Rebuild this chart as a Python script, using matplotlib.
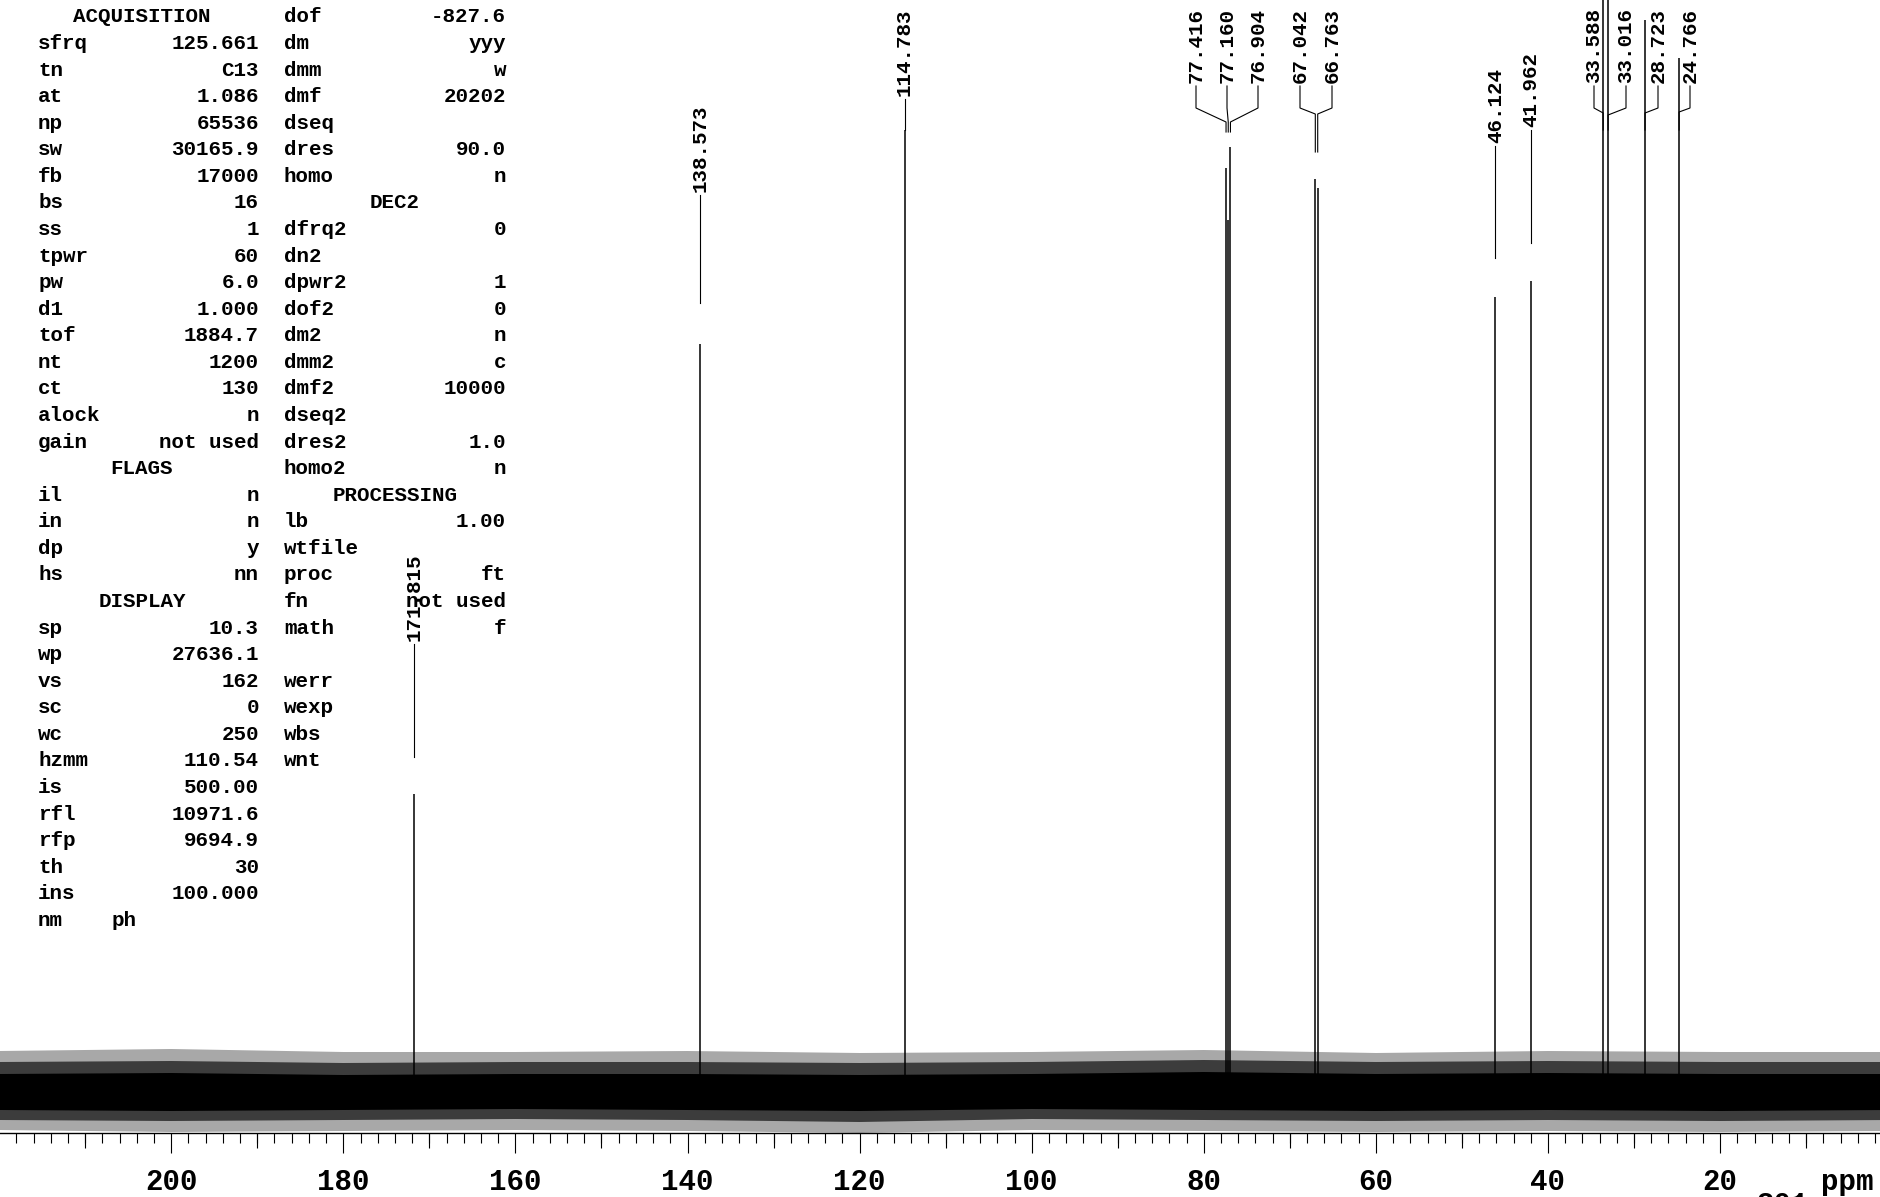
import matplotlib
matplotlib.use("Agg")
import matplotlib.pyplot as plt
from matplotlib.ticker import MultipleLocator, FuncFormatter

# ---------------- data ----------------
peak_ppm = [171.815, 138.573, 114.783, 77.416, 77.160, 76.904, 67.042, 66.763,
            46.124, 41.962, 33.588, 33.016, 28.723, 24.766]
# peak heights (intensity above baseline, arbitrary units)
peak_height = [298, 748, 962, 924, 872, 945, 913, 904, 795, 811, 1250, 1250, 1072, 1034]
peak_labels = ["171.815", "138.573", "114.783", "77.416", "77.160", "76.904", "67.042",
               "66.763", "46.124", "41.962", "33.588", "33.016", "28.723", "24.766"]

# baseline noise envelope
noise_ppm = [220, 200, 180, 160, 140, 120, 100, 80, 60, 40, 20, 0]
noise_core_hi = [18, 19, 17, 18, 18, 17, 18, 20, 18, 19, 18, 18]
noise_core_lo = [-18, -19, -18, -17, -18, -19, -17, -18, -19, -18, -19, -18]
noise_mid_hi = [30, 31, 29, 30, 30, 29, 30, 32, 30, 31, 30, 30]
noise_mid_lo = [-28, -29, -28, -27, -28, -30, -27, -28, -29, -28, -29, -28]
noise_spike_hi = [41, 43, 40, 40, 41, 39, 40, 42, 39, 41, 40, 40]
noise_spike_lo = [-38, -40, -39, -38, -39, -41, -38, -39, -40, -39, -40, -39]

tick_major = 20
tick_medium = 10
tick_minor = 2

# parameter listing
col1_rows = [("ACQUISITION", None), ("sfrq", "125.661"), ("tn", "C13"), ("at", "1.086"),
             ("np", "65536"), ("sw", "30165.9"), ("fb", "17000"), ("bs", "16"), ("ss", "1"),
             ("tpwr", "60"), ("pw", "6.0"), ("d1", "1.000"), ("tof", "1884.7"), ("nt", "1200"),
             ("ct", "130"), ("alock", "n"), ("gain", "not used"), ("FLAGS", None),
             ("il", "n"), ("in", "n"), ("dp", "y"), ("hs", "nn"), ("DISPLAY", None),
             ("sp", "10.3"), ("wp", "27636.1"), ("vs", "162"), ("sc", "0"), ("wc", "250"),
             ("hzmm", "110.54"), ("is", "500.00"), ("rfl", "10971.6"), ("rfp", "9694.9"),
             ("th", "30"), ("ins", "100.000"), ("nm", "")]
col2_rows = [("dof", "-827.6"), ("dm", "yyy"), ("dmm", "w"), ("dmf", "20202"), ("dseq", ""),
             ("dres", "90.0"), ("homo", "n"), ("DEC2", None), ("dfrq2", "0"), ("dn2", ""),
             ("dpwr2", "1"), ("dof2", "0"), ("dm2", "n"), ("dmm2", "c"), ("dmf2", "10000"),
             ("dseq2", ""), ("dres2", "1.0"), ("homo2", "n"), ("PROCESSING", None),
             ("lb", "1.00"), ("wtfile", ""), ("proc", "ft"), ("fn", "not used"),
             ("math", "f"), ("", ""), ("werr", ""), ("wexp", ""), ("wbs", ""), ("wnt", "")]
headers = {"ACQUISITION", "FLAGS", "DISPLAY", "DEC2", "PROCESSING"}

# ---------------- layout (pixels) ----------------
W, H, DPI = 1881, 1197, 100
BASE_PX = 1092          # baseline pixel row
AXIS_PX = 1133          # x-axis line pixel row
XL = (219.9, 1.3)       # ppm at left/right edge

# label layout: (label_x_px or None=at peak, text_bottom_px, bend_px or None, knee_px, end_px)
label_layout = [
    (None, 641, None, None, 757),
    (None, 192, None, None, 303),
    (None, 96, None, None, 130),
    (1196, 83, 108, 122, 132),
    (1227, 83, 108, 122, 132),
    (1258, 83, 108, 122, 132),
    (1300, 83, 108, 114, 152),
    (1332, 83, 108, 114, 152),
    (None, 143, None, None, 258),
    (None, 127, None, None, 243),
    (1594, 83, 108, 113, 130),
    (1626, 83, 108, 115, 130),
    (1658, 83, 108, 113, 130),
    (1690, 83, 108, 112, 130),
]

MONO = "Liberation Mono"


def px2ppm(px):
    return XL[0] + px / W * (XL[1] - XL[0])


def py(pix):
    return BASE_PX - pix


fig = plt.figure(figsize=(W / DPI, H / DPI), dpi=DPI)
ax = fig.add_axes([0, 0, 1, 1])
ax.set_xlim(*XL)
ax.set_ylim(BASE_PX - H, BASE_PX)
ax.patch.set_visible(False)

# noise band (outer spikes, dense middle, solid core)
ax.fill_between(noise_ppm, noise_spike_lo, noise_spike_hi, color="#a8a8a8", lw=0, zorder=1)
ax.fill_between(noise_ppm, noise_mid_lo, noise_mid_hi, color="#3c3c3c", lw=0, zorder=2)
ax.fill_between(noise_ppm, noise_core_lo, noise_core_hi, color="black", lw=0, zorder=3)

# peaks
ax.vlines(peak_ppm, 0, peak_height, color="black", lw=1.1, zorder=4)

# labels and leaders
for p, lab, (lx, tb, bend, knee, end) in zip(peak_ppm, peak_labels, label_layout):
    xs_lab = px2ppm(lx) if lx is not None else p
    ax.text(xs_lab, py(tb), lab, rotation=90, ha="center", va="bottom",
            fontfamily=MONO, fontweight="bold", fontsize=15, color="black")
    if bend is None:
        ax.plot([p, p], [py(tb + 3), py(end)], color="black", lw=0.8)
    else:
        ax.plot([xs_lab, xs_lab, p, p], [py(tb + 3), py(bend), py(knee), py(end)],
                color="black", lw=0.8)

# axis
for s in ["top", "left", "right"]:
    ax.spines[s].set_visible(False)
ax.spines["bottom"].set_position(("data", py(AXIS_PX)))
ax.spines["bottom"].set_linewidth(1.0)
ax.spines["bottom"].set_zorder(5)
ax.yaxis.set_visible(False)
ax.xaxis.set_major_locator(MultipleLocator(tick_major))
ax.xaxis.set_minor_locator(MultipleLocator(tick_minor))
ax.xaxis.set_major_formatter(FuncFormatter(
    lambda v, pos: "" if (v > 210 or v < 10) else f"{v:.0f}"))
ax.tick_params(axis="x", which="major", direction="out", length=20 * 0.72, width=0.8,
               pad=11, labelsize=21)
ax.tick_params(axis="x", which="minor", direction="out", length=10 * 0.72, width=0.8)
for t in ax.get_xticklabels():
    t.set_fontfamily(MONO)
    t.set_fontweight("bold")
med = [v for v in range(tick_medium, 221, tick_medium) if v % tick_major]
ax.vlines(med, py(AXIS_PX + 15), py(AXIS_PX), color="black", lw=0.8)

fig.text(1847 / W, 1 - 1182 / H, "ppm", ha="center", va="center",
         fontfamily=MONO, fontweight="bold", fontsize=21)
fig.text(1757 / W, 1 - 1191 / H, "301", ha="left", va="top",
         fontfamily=MONO, fontweight="bold", fontsize=21)

# parameter listing
ROW0, DY = 17, 26.57
C1L, C1R, C1C = 38, 259, 142
C2L, C2R, C2C = 284, 506, 395


def ftext(x, y, s, ha):
    fig.text(x / W, 1 - y / H, s, ha=ha, va="center", fontfamily=MONO,
             fontweight="bold", fontsize=15)


for i, (k, v) in enumerate(col1_rows):
    y = ROW0 + i * DY
    if k in headers:
        ftext(C1C, y, k, "center")
    else:
        ftext(C1L, y, k, "left")
        if k == "nm":
            ftext(112, y, "ph", "left")
        elif v:
            ftext(C1R, y, v, "right")
for i, (k, v) in enumerate(col2_rows):
    y = ROW0 + i * DY
    if k in headers:
        ftext(C2C, y, k, "center")
    else:
        if k:
            ftext(C2L, y, k, "left")
        if v:
            ftext(C2R, y, v, "right")

fig.savefig("out.png", dpi=DPI)
